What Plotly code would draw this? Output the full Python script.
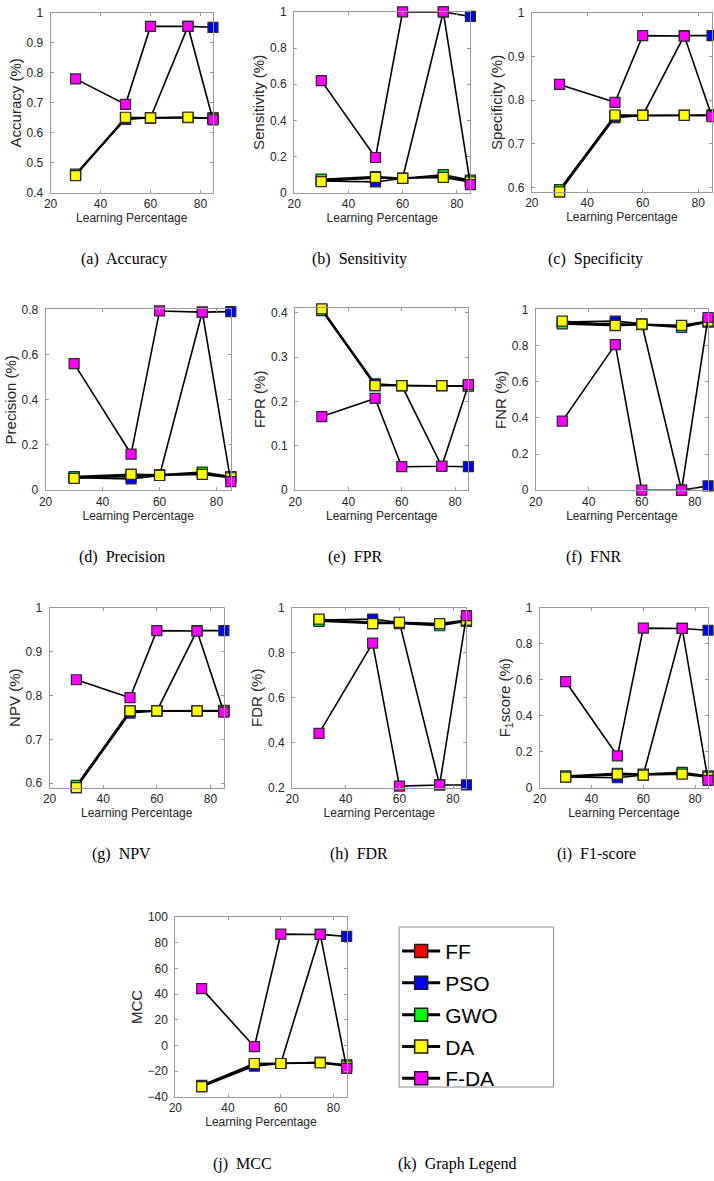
import plotly.graph_objects as go

# ---------------- data ----------------
learning_pct = [30, 50, 60, 75, 85]
methods = ["FF", "PSO", "GWO", "DA", "F-DA"]

# each metric: rows in order FF, PSO, GWO, DA, F-DA
accuracy = [
    [0.460, 0.648, 0.650, 0.651, 0.650],
    [0.460, 0.645, 0.650, 0.955, 0.952],
    [0.462, 0.650, 0.650, 0.652, 0.648],
    [0.457, 0.652, 0.650, 0.652, 0.648],
    [0.780, 0.695, 0.955, 0.955, 0.643],
]
sensitivity = [
    [0.070, 0.080, 0.080, 0.090, 0.065],
    [0.065, 0.060, 0.080, 1.000, 0.975],
    [0.075, 0.090, 0.080, 0.100, 0.070],
    [0.062, 0.085, 0.080, 0.085, 0.060],
    [0.620, 0.195, 1.000, 1.000, 0.045],
]
specificity = [
    [0.592, 0.764, 0.765, 0.765, 0.765],
    [0.590, 0.760, 0.765, 0.948, 0.948],
    [0.595, 0.765, 0.765, 0.765, 0.766],
    [0.590, 0.766, 0.765, 0.765, 0.765],
    [0.836, 0.795, 0.948, 0.947, 0.762],
]
precision = [
    [0.056, 0.060, 0.068, 0.075, 0.058],
    [0.055, 0.050, 0.065, 0.788, 0.790],
    [0.060, 0.070, 0.068, 0.080, 0.060],
    [0.052, 0.070, 0.065, 0.070, 0.055],
    [0.560, 0.160, 0.793, 0.788, 0.038],
]
fpr = [
    [0.406, 0.238, 0.236, 0.236, 0.235],
    [0.408, 0.240, 0.236, 0.054, 0.053],
    [0.405, 0.236, 0.236, 0.236, 0.235],
    [0.409, 0.236, 0.236, 0.236, 0.235],
    [0.166, 0.207, 0.053, 0.054, 0.238],
]
fnr = [
    [0.925, 0.920, 0.917, 0.905, 0.932],
    [0.930, 0.935, 0.920, 0.000, 0.024],
    [0.920, 0.910, 0.915, 0.900, 0.930],
    [0.935, 0.912, 0.918, 0.912, 0.935],
    [0.382, 0.805, 0.000, 0.000, 0.955],
]
npv = [
    [0.592, 0.764, 0.765, 0.765, 0.765],
    [0.590, 0.760, 0.765, 0.948, 0.948],
    [0.595, 0.765, 0.765, 0.765, 0.766],
    [0.590, 0.765, 0.765, 0.765, 0.765],
    [0.836, 0.795, 0.948, 0.947, 0.762],
]
fdr = [
    [0.945, 0.938, 0.933, 0.925, 0.942],
    [0.945, 0.950, 0.935, 0.212, 0.212],
    [0.940, 0.930, 0.930, 0.920, 0.940],
    [0.950, 0.930, 0.935, 0.930, 0.945],
    [0.441, 0.843, 0.207, 0.212, 0.965],
]
f1score = [
    [0.062, 0.070, 0.072, 0.080, 0.062],
    [0.060, 0.055, 0.070, 0.885, 0.875],
    [0.065, 0.080, 0.075, 0.085, 0.065],
    [0.058, 0.075, 0.070, 0.075, 0.058],
    [0.590, 0.177, 0.887, 0.885, 0.040],
]
mcc = [
    [-31.5, -15.0, -14.0, -13.0, -15.5],
    [-32.0, -16.0, -14.0, 86.5, 85.0],
    [-31.0, -14.0, -14.0, -13.0, -15.0],
    [-32.0, -14.0, -14.0, -13.5, -16.0],
    [44.3, -0.9, 86.7, 86.5, -17.8],
]

# ---------------- style / layout ----------------
W, H = 714, 1181
colors = ["#FF0000", "#0000FF", "#00FF00", "#FFFF00", "#FF00FF"]
tick_color = "#262626"
axis_line = "#9a9a9a"
sans = "Liberation Sans, Arial, sans-serif"
serif = "Liberation Serif, Times New Roman, serif"

# (data, y title, y range, y dtick, tick0, px box [x0, x1, y0, y1], caption, caption center x, caption y)
panels = [
    (accuracy, "Accuracy (%)", [0.4, 1.0], 0.1, 0.4, [44, 208, 6, 188], "(a)  Accuracy", 118, 255),
    (sensitivity, "Sensitivity (%)", [0, 1.0], 0.2, 0, [290, 468, 5, 188], "(b)  Sensitivity", 356, 255),
    (specificity, "Specificity (%)", [0.59, 1.0], 0.1, 0.6, [530, 712, 6, 187], "(c)  Specificity", 594, 255),
    (precision, "Precision (%)", [0, 0.8], 0.2, 0, [39, 226, 306, 489], "(d)  Precision", 116, 557),
    (fpr, "FPR (%)", [0, 0.41], 0.1, 0, [291, 466, 305, 489], "(e)  FPR", 352, 557),
    (fnr, "FNR (%)", [0, 1.0], 0.2, 0, [534, 708, 306, 489], "(f)  FNR", 592, 557),
    (npv, "NPV (%)", [0.59, 1.0], 0.1, 0.6, [43, 219, 608, 790], "(g)  NPV", 116, 857),
    (fdr, "FDR (%)", [0.2, 1.0], 0.2, 0.2, [288, 464, 608, 790], "(h)  FDR", 355, 857),
    (f1score, "F<sub>1</sub>score (%)", [0, 1.0], 0.2, 0, [538, 708, 608, 790], "(i)  F1-score", 595, 857),
    (mcc, "MCC", [-40, 100], 20, -40, [170, 343, 921, 1103], "(j)  MCC", 238, 1171),
]

fig = go.Figure()
annotations = []
layout_axes = {}

for i, (data, ytitle, yrange, dtick, t0, box, caption, capx, capy) in enumerate(panels):
    n = i + 1
    xa = "x" if n == 1 else f"x{n}"
    ya = "y" if n == 1 else f"y{n}"
    for k, (name, col) in enumerate(zip(methods, colors)):
        fig.add_trace(go.Scatter(
            x=learning_pct, y=data[k], xaxis=xa, yaxis=ya,
            mode="lines+markers", name=name, showlegend=False,
            cliponaxis=False,
            line=dict(color="black", width=1.6),
            marker=dict(symbol="square", size=10, color=col,
                        line=dict(color="#2a2a2a", width=1.2)),
        ))
    x0, x1, y0, y1 = box
    xkey = "xaxis" if n == 1 else f"xaxis{n}"
    ykey = "yaxis" if n == 1 else f"yaxis{n}"
    layout_axes[xkey] = dict(
        domain=[x0 / W, x1 / W], anchor=ya, range=[20, 85],
        tick0=20, dtick=20, ticks="inside", ticklen=3, tickcolor=axis_line,
        showline=True, mirror="ticks", linecolor=axis_line, linewidth=1,
        showgrid=False, zeroline=False,
        tickfont=dict(family=sans, size=12, color=tick_color),
        title=dict(text="Learning Percentage", standoff=2,
                   font=dict(family=sans, size=12, color=tick_color)),
    )
    layout_axes[ykey] = dict(
        domain=[1 - y1 / H, 1 - y0 / H], anchor=xa, range=yrange,
        tick0=t0, dtick=dtick, ticks="inside", ticklen=3, tickcolor=axis_line,
        showline=True, mirror="ticks", linecolor=axis_line, linewidth=1,
        showgrid=False, zeroline=False, ticklabelstandoff=4,
        tickfont=dict(family=sans, size=12, color=tick_color),
        title=dict(text=ytitle, standoff=1,
                   font=dict(family=sans, size=15, color=tick_color)),
    )
    annotations.append(dict(
        text=caption, x=capx / W, y=1 - capy / H, xref="paper", yref="paper",
        xanchor="center", yanchor="middle", showarrow=False,
        font=dict(family=serif, size=16, color="black"),
    ))

annotations.append(dict(
    text="(k)  Graph Legend", x=455 / W, y=1 - 1171 / H, xref="paper", yref="paper",
    xanchor="center", yanchor="middle", showarrow=False,
    font=dict(family=serif, size=16, color="black"),
))

# legend-only entries (thicker lines, like the reference legend)
for name, col in zip(methods, colors):
    fig.add_trace(go.Scatter(
        x=[None], y=[None], xaxis="x10", yaxis="y10",
        mode="lines+markers", name=name, showlegend=True, legendgroup=name,
        line=dict(color="black", width=3),
        marker=dict(symbol="square", size=13, color=col,
                    line=dict(color="#1a1a1a", width=1.5)),
    ))

# legend frame
shapes = [dict(type="rect", xref="paper", yref="paper",
               x0=396 / W, x1=552 / W, y0=1 - 1093 / H, y1=1 - 931 / H,
               line=dict(color="#8a8a8a", width=1), fillcolor="rgba(0,0,0,0)",
               layer="below")]

fig.update_layout(
    width=W, height=H,
    margin=dict(l=0, r=0, t=0, b=0),
    paper_bgcolor="white", plot_bgcolor="white",
    showlegend=True,
    legend=dict(
        x=394 / W, y=1 - 935 / H, xanchor="left", yanchor="top",
        bgcolor="rgba(0,0,0,0)", borderwidth=0,
        font=dict(family=sans, size=21, color="black"),
        itemsizing="trace", tracegroupgap=1.5, itemwidth=38,
    ),
    annotations=annotations,
    shapes=shapes,
    **layout_axes,
)

fig.write_html(
    "out.html",
    config={"displayModeBar": False},
    post_script="document.body.style.margin='0px';document.body.style.overflow='hidden';",
)
